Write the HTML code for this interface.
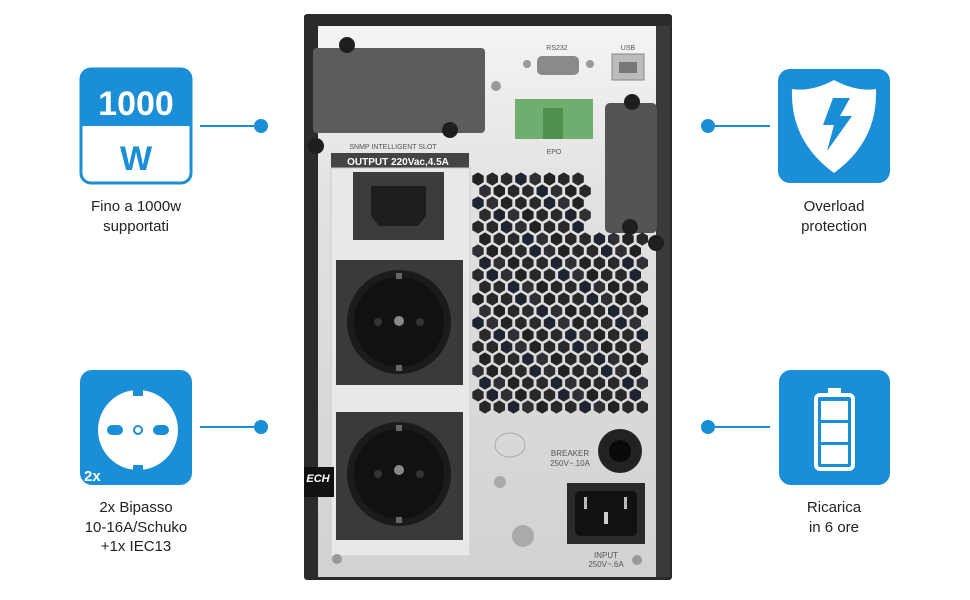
<!DOCTYPE html>
<html><head><meta charset="utf-8"><style>
html,body{margin:0;padding:0;background:#fff;width:970px;height:600px;overflow:hidden}
svg{display:block}
.lbl{font-family:"Liberation Sans",sans-serif;font-size:15px;fill:#222;text-anchor:middle}
.sm{font-family:"Liberation Sans",sans-serif;fill:#555;text-anchor:middle}
</style></head><body>
<svg id="s" width="970" height="600" viewBox="0 0 970 600" xmlns="http://www.w3.org/2000/svg">
<defs>
<linearGradient id="pan" x1="0" y1="0" x2="0" y2="1"><stop offset="0" stop-color="#f4f4f4"/><stop offset="0.3" stop-color="#e2e2e2"/><stop offset="1" stop-color="#d2d2d2"/></linearGradient>
</defs>
<rect x="304" y="14" width="368" height="566" rx="3" fill="#2b2b2d"/>
<rect x="318" y="26" width="338" height="551" fill="url(#pan)"/>
<rect x="656" y="26" width="14" height="551" fill="#3a3a3c"/>
<rect x="313" y="48" width="172" height="85" rx="4" fill="#5c5c5e"/>
<circle cx="347" cy="45" r="8" fill="#1e1e1e"/><circle cx="450" cy="130" r="8" fill="#1e1e1e"/>
<circle cx="316" cy="146" r="8" fill="#1e1e1e"/>
<text x="393" y="149" class="sm" font-size="7">SNMP INTELLIGENT SLOT</text>
<rect x="331" y="153" width="138" height="15" fill="#444"/>
<text x="398" y="165" font-family="Liberation Sans" font-weight="bold" font-size="10" fill="#fff" text-anchor="middle">OUTPUT  220Vac,4.5A</text>
<rect x="331" y="168" width="139" height="388" fill="#e8e8e8" stroke="#ccc"/>
<rect x="353" y="172" width="91" height="68" fill="#3c3c3c"/>
<path d="M371 186 h55 v30 l-8 10 h-39 l-8 -10z" fill="#1e1e1e"/>
<rect x="336" y="260" width="127" height="125" fill="#3a3a3a"/>
<circle cx="399" cy="322" r="52" fill="#1b1b1b"/><circle cx="399" cy="322" r="45" fill="#111"/>
<circle cx="399" cy="321" r="5" fill="#888"/><rect x="396" y="273" width="6" height="6" fill="#666"/><rect x="396" y="365" width="6" height="6" fill="#666"/>
<circle cx="378" cy="322" r="4" fill="#333"/><circle cx="420" cy="322" r="4" fill="#333"/>
<rect x="336" y="412" width="127" height="128" fill="#3a3a3a"/>
<circle cx="399" cy="474" r="52" fill="#1b1b1b"/><circle cx="399" cy="474" r="45" fill="#111"/>
<circle cx="399" cy="470" r="5" fill="#888"/><rect x="396" y="425" width="6" height="6" fill="#666"/><rect x="396" y="517" width="6" height="6" fill="#666"/>
<circle cx="378" cy="474" r="4" fill="#333"/><circle cx="420" cy="474" r="4" fill="#333"/>
<rect x="304" y="467" width="30" height="30" fill="#111"/>
<text x="318" y="482" font-family="Liberation Sans" font-weight="bold" font-style="italic" font-size="11" fill="#fff" text-anchor="middle">ECH</text>
<text x="557" y="50" class="sm" font-size="7">RS232</text>
<text x="628" y="50" class="sm" font-size="7">USB</text>
<rect x="537" y="56" width="42" height="19" rx="5" fill="#8a8a8a"/><circle cx="527" cy="64" r="4" fill="#999"/><circle cx="590" cy="64" r="4" fill="#999"/>
<rect x="612" y="54" width="32" height="26" fill="#bbb" stroke="#888"/><rect x="619" y="62" width="18" height="11" fill="#777"/>
<circle cx="496" cy="86" r="5" fill="#999"/>
<rect x="515" y="99" width="78" height="40" fill="#6fae6f"/>
<rect x="543" y="108" width="20" height="31" fill="#4d914d"/>
<text x="554" y="154" class="sm" font-size="7">EPO</text>
<text x="596" y="118" class="sm" font-size="7" transform="rotate(90 596 140)">EXT BATTERY</text>
<rect x="605" y="103" width="52" height="130" rx="5" fill="#545456"/>
<circle cx="632" cy="102" r="8" fill="#1e1e1e"/><circle cx="630" cy="227" r="8" fill="#1e1e1e"/><circle cx="656" cy="243" r="8" fill="#1e1e1e"/>
<g id="holes"></g>
<ellipse cx="510" cy="445" rx="15" ry="12" fill="none" stroke="#aaa"/>
<circle cx="500" cy="482" r="6" fill="#aaa"/>
<circle cx="523" cy="536" r="11" fill="#aaa"/>
<circle cx="620" cy="451" r="22" fill="#222"/><circle cx="620" cy="451" r="11" fill="#0a0a0a"/>
<text x="570" y="456" class="sm" font-size="8" fill="#333">BREAKER</text>
<text x="570" y="466" class="sm" font-size="8" fill="#333">250V~.10A</text>
<rect x="567" y="483" width="78" height="61" fill="#2a2a2a"/>
<rect x="575" y="491" width="62" height="45" rx="5" fill="#111"/>
<rect x="584" y="497" width="3" height="12" fill="#bbb"/><rect x="624" y="497" width="3" height="12" fill="#bbb"/><rect x="604" y="512" width="4" height="12" fill="#ccc"/>
<text x="606" y="558" class="sm" font-size="8" fill="#333">INPUT</text>
<text x="606" y="567" class="sm" font-size="8" fill="#333">250V~.6A</text>
<circle cx="337" cy="559" r="5" fill="#999"/><circle cx="637" cy="560" r="5" fill="#999"/>
<g stroke="#1a8ed6" stroke-width="2"><line x1="200" y1="126" x2="258" y2="126"/><line x1="200" y1="427" x2="258" y2="427"/><line x1="712" y1="126" x2="770" y2="126"/><line x1="712" y1="427" x2="770" y2="427"/></g>
<g fill="#1a8ed6"><circle cx="261" cy="126" r="7"/><circle cx="261" cy="427" r="7"/><circle cx="708" cy="126" r="7"/><circle cx="708" cy="427" r="7"/></g>
<rect x="81" y="69" width="110" height="114" rx="10" fill="#fff" stroke="#1a8ed6" stroke-width="3"/>
<path d="M81 126 V79 a10 10 0 0 1 10 -10 h90 a10 10 0 0 1 10 10 V126z" fill="#1a8ed6"/>
<text x="136" y="115" font-family="Liberation Sans" font-weight="bold" font-size="34" fill="#fff" text-anchor="middle">1000</text>
<text x="136" y="170" font-family="Liberation Sans" font-weight="bold" font-size="34" fill="#1a8ed6" text-anchor="middle">W</text>
<rect x="80" y="370" width="112" height="115" rx="12" fill="#1a8ed6"/>
<circle cx="138" cy="430" r="40" fill="#fff"/>
<rect x="133" y="386" width="10" height="10" fill="#1a8ed6"/><rect x="133" y="465" width="10" height="10" fill="#1a8ed6"/>
<rect x="107" y="425" width="16" height="10" rx="5" fill="#1a8ed6"/><rect x="153" y="425" width="16" height="10" rx="5" fill="#1a8ed6"/>
<circle cx="138" cy="430" r="4" fill="none" stroke="#1a8ed6" stroke-width="2"/>
<text x="84" y="481" font-family="Liberation Sans" font-weight="bold" font-size="15" fill="#fff">2x</text>
<rect x="778" y="69" width="112" height="114" rx="12" fill="#1a8ed6"/>
<path d="M834 80 q22 12 42 9 q2 52 -42 84 q-44 -32 -42 -84 q20 3 42 -9z" fill="#fff"/>
<path d="M833 98 h17 l-10 18 h12 l-25 35 l7 -26 h-11z" fill="#1a8ed6"/>
<rect x="779" y="370" width="111" height="115" rx="12" fill="#1a8ed6"/>
<rect x="828" y="388" width="13" height="7" fill="#fff"/>
<rect x="816" y="395" width="37" height="74" rx="4" fill="none" stroke="#fff" stroke-width="4"/>
<rect x="821" y="401" width="27" height="19" fill="#fff"/><rect x="821" y="423" width="27" height="19" fill="#fff"/><rect x="821" y="445" width="27" height="19" fill="#fff"/>
<text x="136" y="211" class="lbl">Fino a 1000w</text>
<text x="136" y="231" class="lbl">supportati</text>
<text x="136" y="512" class="lbl">2x Bipasso</text>
<text x="136" y="532" class="lbl">10-16A/Schuko</text>
<text x="136" y="551" class="lbl">+1x IEC13</text>
<text x="834" y="211" class="lbl">Overload</text>
<text x="834" y="231" class="lbl">protection</text>
<text x="834" y="512" class="lbl">Ricarica</text>
<text x="834" y="532" class="lbl">in 6 ore</text>
</svg>
<script>
var g=document.getElementById('holes'),ns='http://www.w3.org/2000/svg';
var cols=['#222','#2a2a2c','#303034','#28282a','#1f2430'];
for(var r=0;r<20;r++){var y=179+r*12;var off=(r%2)?7:0;
for(var c=0;c<13;c++){var x=478+off+c*14.3;if(x>644)break;if(y<238&&x>590)continue;
var R=6.6,pts=[];for(var k=0;k<6;k++){var a=Math.PI/3*k+Math.PI/6;pts.push((x+R*Math.cos(a)).toFixed(1)+','+(y+R*Math.sin(a)).toFixed(1));}
var p=document.createElementNS(ns,'polygon');p.setAttribute('points',pts.join(' '));p.setAttribute('fill',cols[(r*7+c*3)%5]);g.appendChild(p);}}
</script>
</body></html>
